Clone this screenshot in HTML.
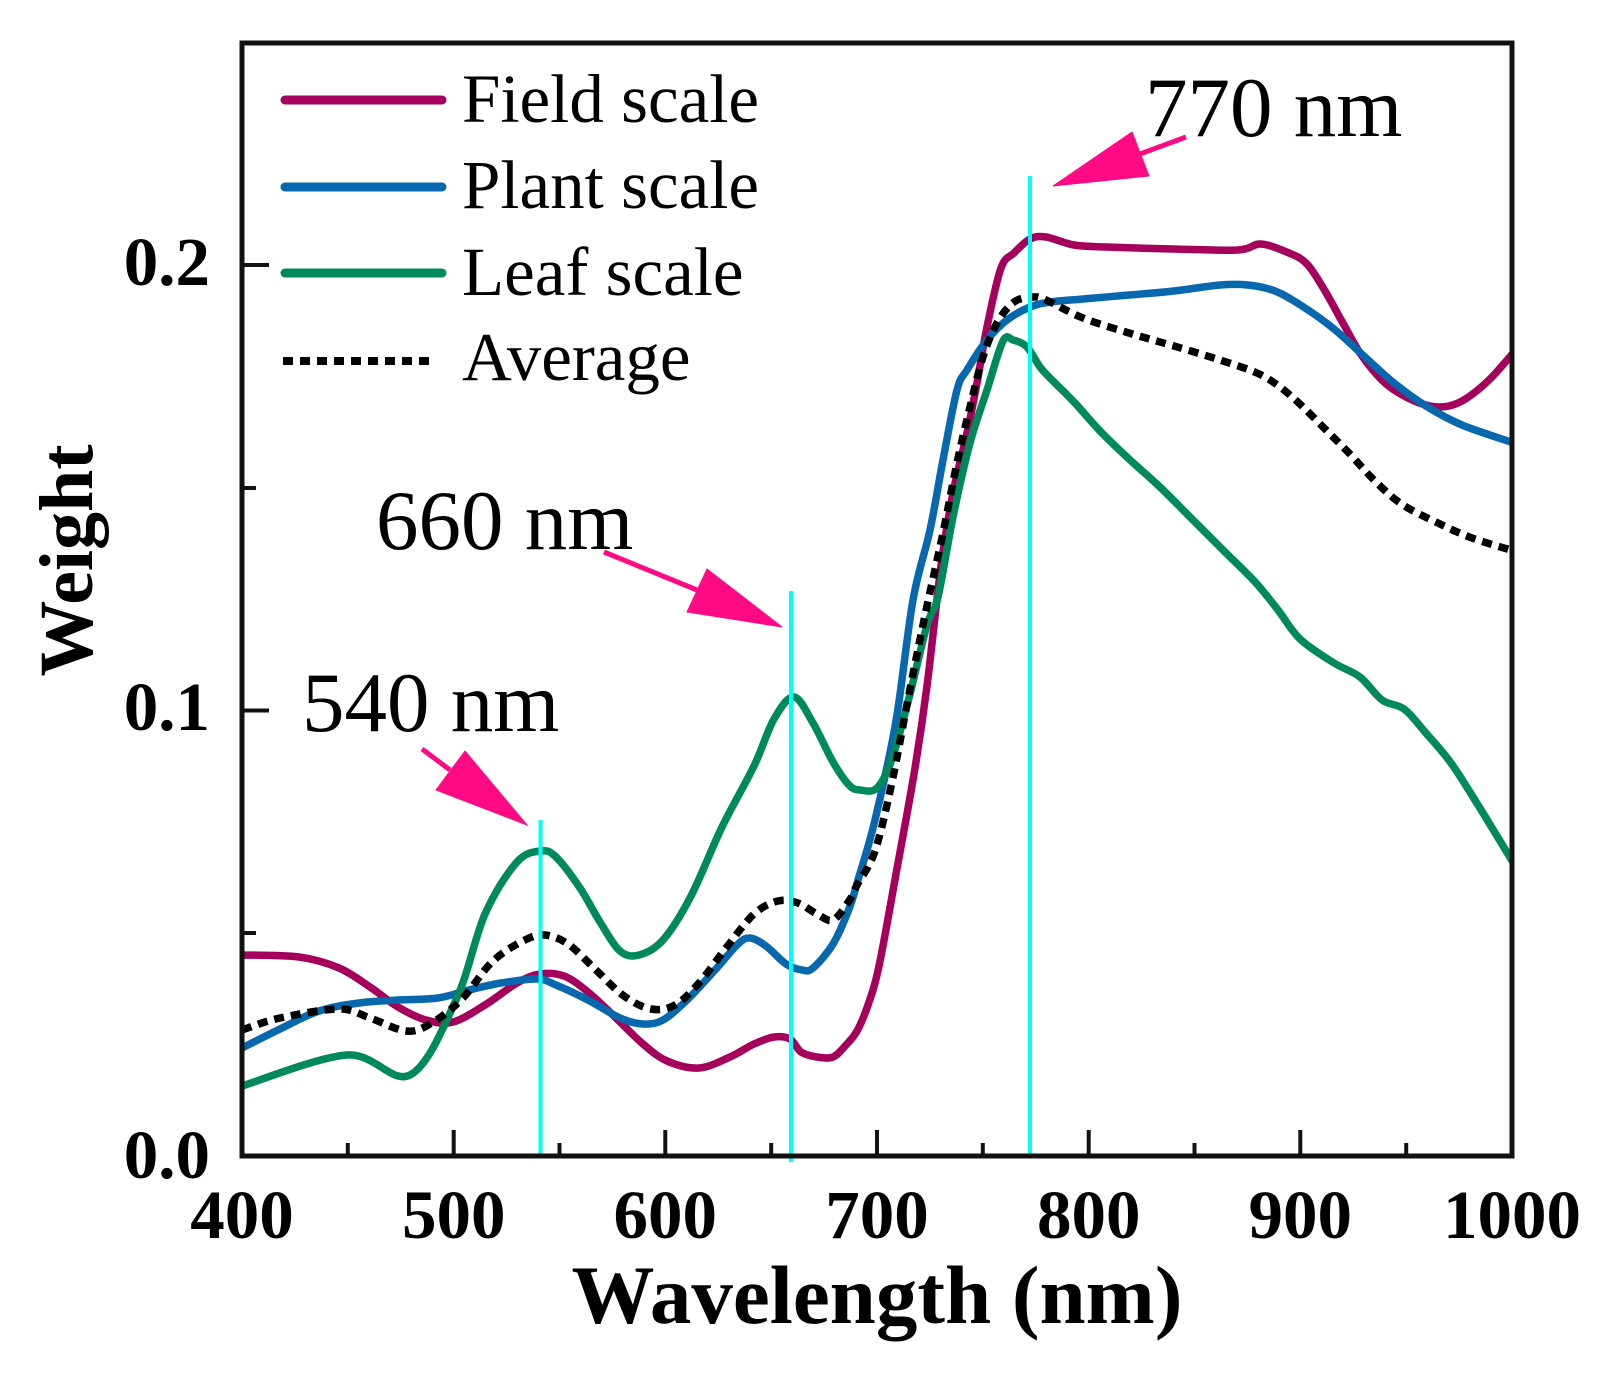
<!DOCTYPE html>
<html><head><meta charset="utf-8"><style>
html,body{margin:0;padding:0;background:#fff;}
svg{display:block;}
text{font-family:"Liberation Serif","Times New Roman",serif;fill:#000;}
</style></head><body>
<svg id="chart" width="1617" height="1384" viewBox="0 0 1617 1384" xmlns="http://www.w3.org/2000/svg">
<rect width="1617" height="1384" fill="#fff"/>
<defs><clipPath id="pc"><rect x="242" y="43" width="1270" height="1113"/></clipPath></defs>

<g clip-path="url(#pc)" fill="none" stroke-width="7.5" stroke-linejoin="round" stroke-linecap="round">
<!-- Field scale -->
<polyline class="sm" stroke="#a4005c" points="242,955 299,957 339,968 370,987 398,1007 426,1020 453,1022 485,1005 517,983 540,974 564,976 588,992 616,1018 643,1044 667,1061 699,1068 730,1057 754,1044 774,1037 790,1039 801,1052 817,1057 833,1057 846,1045 857,1031 868,1005 879,966 896,874 914,774 927,686 941,566 953,493 967,433 977,383 987,327 1001,268 1014,253 1030,239 1046,237 1074,245 1106,247 1174,249 1238,250 1261,244 1289,253 1307,264 1325,291 1344,325 1362,356 1385,383 1408,398 1430,406 1449,406 1467,398 1490,379 1514,352"/>
<!-- Plant scale -->
<polyline class="sm" stroke="#0768ae" points="242,1048 280,1029 319,1011 359,1003 398,1000 438,998 469,990 501,983 537,979 556,985 588,1000 620,1018 643,1024 663,1020 687,1000 715,970 738,944 750,938 766,946 786,964 802,970 813,968 833,944 849,909 858,880 875,820 896,721 913,600 930,530 943,460 957,390 967,370 987,340 1007,320 1030,307 1051,302 1083,299 1129,295 1174,291 1220,285 1248,285 1275,291 1302,306 1334,329 1366,358 1394,383 1426,406 1462,425 1514,443"/>
<!-- Leaf scale -->
<polyline class="sm" stroke="#008a5c" points="242,1086 347,1055 410,1075 456,1000 485,914 517,862 541,851 556,857 580,888 600,922 620,951 639,955 663,940 691,896 722,827 754,766 774,719 794,697 813,723 833,762 849,785 860,790 877,788 892,759 909,698 927,625 938,597 953,517 970,443 987,390 1003,341 1013,340 1027,347 1040,367 1051,379 1074,402 1101,432 1129,459 1161,488 1193,520 1225,552 1256,583 1278,610 1300,639 1334,663 1360,677 1382,700 1404,709 1425,732 1451,763 1478,805 1514,864"/>
<!-- Average -->
<polyline class="sm" stroke="#000" stroke-dasharray="10 7" stroke-linecap="butt" points="242,1030 280,1018 339,1009 370,1018 406,1031 430,1024 461,1000 493,961 525,940 545,935 568,944 596,970 624,996 651,1009 675,1005 699,983 726,948 754,914 778,901 798,903 817,914 833,920 849,901 857,885 875,851 892,782 909,694 927,606 943,533 957,463 970,407 983,357 997,323 1014,302 1033,297 1046,300 1083,318 1129,333 1174,346 1220,360 1257,373 1280,387 1302,406 1325,429 1348,452 1376,482 1403,505 1440,524 1472,538 1514,551"/>
</g>

<!-- cyan markers -->
<g stroke="#00ffff" stroke-width="4">
<line x1="540.5" y1="820" x2="540.5" y2="1156"/>
<line x1="791" y1="591" x2="791" y2="1162"/>
<line x1="1030" y1="176" x2="1030" y2="1156"/>
</g>

<!-- arrows -->
<g fill="#ff0a85" stroke="#ff0a85">
<line x1="1186" y1="137" x2="1140" y2="154" stroke-width="5"/>
<polygon points="1053,186 1132,132 1149,176" stroke-width="1"/>
<line x1="604" y1="552" x2="697" y2="590" stroke-width="5"/>
<polygon points="782,627 707,569 687,612" stroke-width="1"/>
<line x1="422" y1="749" x2="450" y2="770" stroke-width="5"/>
<polygon points="527,825 465,751 436,790" stroke-width="1"/>
</g>

<!-- annotations -->
<text x="1145" y="136" font-size="85">770 nm</text>
<text x="376" y="549" font-size="85">660 nm</text>
<text x="302" y="731" font-size="85">540 nm</text>

<!-- legend -->
<g stroke-width="9" stroke-linecap="round">
<line x1="285" y1="100" x2="442" y2="100" stroke="#a4005c"/>
<line x1="285" y1="187" x2="442" y2="187" stroke="#0768ae"/>
<line x1="285" y1="273" x2="442" y2="273" stroke="#008a5c"/>
</g>
<line x1="283" y1="361" x2="434" y2="361" stroke="#000" stroke-width="8" stroke-dasharray="10 7"/>
<g font-size="69">
<text x="462" y="122">Field scale</text>
<text x="462" y="208">Plant scale</text>
<text x="462" y="295">Leaf scale</text>
<text x="462" y="380">Average</text>
</g>

<!-- ticks -->
<g stroke="#111" stroke-width="4">
<line x1="453.7" y1="1156" x2="453.7" y2="1130"/>
<line x1="665.3" y1="1156" x2="665.3" y2="1130"/>
<line x1="877" y1="1156" x2="877" y2="1130"/>
<line x1="1088.7" y1="1156" x2="1088.7" y2="1130"/>
<line x1="1300.3" y1="1156" x2="1300.3" y2="1130"/>
<line x1="347.8" y1="1156" x2="347.8" y2="1143"/>
<line x1="559.5" y1="1156" x2="559.5" y2="1143"/>
<line x1="771.2" y1="1156" x2="771.2" y2="1143"/>
<line x1="982.8" y1="1156" x2="982.8" y2="1143"/>
<line x1="1194.5" y1="1156" x2="1194.5" y2="1143"/>
<line x1="1406.2" y1="1156" x2="1406.2" y2="1143"/>
<line x1="242" y1="710.5" x2="269" y2="710.5"/>
<line x1="242" y1="265" x2="269" y2="265"/>
<line x1="242" y1="933" x2="256" y2="933"/>
<line x1="242" y1="488" x2="256" y2="488"/>
</g>

<!-- axes frame -->
<rect x="242" y="43" width="1270" height="1113" fill="none" stroke="#111" stroke-width="5"/>

<!-- tick labels -->
<g font-size="69" font-weight="bold" text-anchor="middle">
<text x="242" y="1238">400</text>
<text x="453.7" y="1238">500</text>
<text x="665.3" y="1238">600</text>
<text x="877" y="1238">700</text>
<text x="1088.7" y="1238">800</text>
<text x="1300.3" y="1238">900</text>
<text x="1512" y="1238">1000</text>
</g>
<g font-size="69" font-weight="bold" text-anchor="end">
<text x="210" y="1178">0.0</text>
<text x="210" y="730">0.1</text>
<text x="210" y="285">0.2</text>
</g>

<!-- axis titles -->
<text x="877" y="1323" font-size="83" font-weight="bold" text-anchor="middle">Wavelength (nm)</text>
<text transform="translate(92,560.5) rotate(-90)" font-size="76" font-weight="bold" text-anchor="middle">Weight</text>
</svg>
<script>
(function(){
  var NS="http://www.w3.org/2000/svg";
  var pls=document.querySelectorAll("polyline.sm");
  for(var k=0;k<pls.length;k++){
    var pl=pls[k];
    var raw=pl.getAttribute("points").trim().split(/\s+/);
    var p=[];
    for(var i=0;i<raw.length;i++){var c=raw[i].split(",");p.push([+c[0],+c[1]]);}
    var d="M"+p[0][0]+","+p[0][1];
    var t=0.5;
    for(var i=0;i<p.length-1;i++){
      var p0=p[i>0?i-1:i],p1=p[i],p2=p[i+1],p3=p[i+2<p.length?i+2:i+1];
      var c1x=p1[0]+(p2[0]-p0[0])/6*t*2,c1y=p1[1]+(p2[1]-p0[1])/6*t*2;
      var c2x=p2[0]-(p3[0]-p1[0])/6*t*2,c2y=p2[1]-(p3[1]-p1[1])/6*t*2;
      d+=" C"+c1x.toFixed(1)+","+c1y.toFixed(1)+" "+c2x.toFixed(1)+","+c2y.toFixed(1)+" "+p2[0]+","+p2[1];
    }
    var path=document.createElementNS(NS,"path");
    for(var a=0;a<pl.attributes.length;a++){
      var at=pl.attributes[a];
      if(at.name!=="points"&&at.name!=="class")path.setAttribute(at.name,at.value);
    }
    path.setAttribute("d",d);
    pl.parentNode.replaceChild(path,pl);
  }
})();
</script>
</body></html>
